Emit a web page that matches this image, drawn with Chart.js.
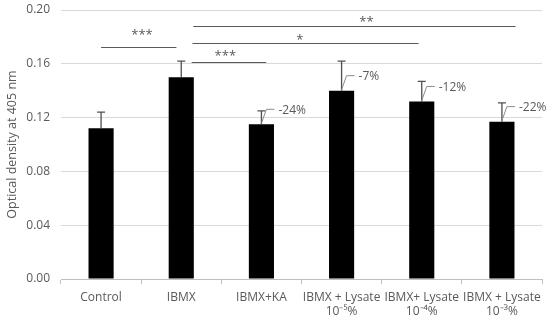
<!DOCTYPE html>
<html>
<head>
<meta charset="utf-8">
<script src="https://cdn.jsdelivr.net/npm/chart.js@4.4.1/dist/chart.umd.min.js"></script>
<style>
  html, body { margin: 0; padding: 0; background: #fff; }
  #wrap { width: 550px; height: 324px; }
</style>
</head>
<body>
<div id="wrap"><canvas id="chart"></canvas></div>
<script>
// data
const categories = ['Control', 'IBMX', 'IBMX+KA', ['IBMX + Lysate', '10\u207B\u2075%'], ['IBMX+ Lysate', '10\u207B\u2074%'], ['IBMX + Lysate', '10\u207B\u00B3%']];
const meanOD = [0.112, 0.150, 0.115, 0.140, 0.132, 0.117];
const errorOD = [0.012, 0.012, 0.010, 0.022, 0.015, 0.014];
const changeLabels = ['', '', '-24%', '-7%', '-12%', '-22%'];
const yTicks = [0, 0.04, 0.08, 0.12, 0.16, 0.20];

// significance bars: from/to/at are category positions, y in OD units
const sigBars = [
  { from: 0.0, to: 0.94, y: 0.1725, label: '***', at: 0.51 },
  { from: 1.13, to: 2.06, y: 0.161, label: '***', at: 1.55 },
  { from: 1.14, to: 3.96, y: 0.1755, label: '*', at: 2.48 },
  { from: 1.15, to: 5.17, y: 0.188, label: '**', at: 3.31 }
];
// how far each star label sits above its line (px)
const sigGap = [15, 9, 6, 7];

const TEXT = '#595959';
const FONT = '"Open Sans", sans-serif';

const extrasPlugin = {
  id: 'extras',
  afterDatasetsDraw(chart) {
    const { ctx, scales: { x, y } } = chart;
    const meta = chart.getDatasetMeta(0);
    ctx.save();

    // error bars (upper only)
    ctx.strokeStyle = '#505050';
    ctx.lineWidth = 1.3;
    meta.data.forEach((bar, i) => {
      const top = y.getPixelForValue(meanOD[i] + errorOD[i]);
      ctx.beginPath();
      ctx.moveTo(bar.x, bar.y);
      ctx.lineTo(bar.x, top);
      ctx.moveTo(bar.x - 4, top);
      ctx.lineTo(bar.x + 4, top);
      ctx.stroke();
    });

    // percent change callouts
    ctx.strokeStyle = '#8c8c8c';
    ctx.lineWidth = 1;
    ctx.fillStyle = TEXT;
    ctx.font = '12px ' + FONT;
    ctx.textBaseline = 'middle';
    meta.data.forEach((bar, i) => {
      if (!changeLabels[i]) return;
      const x0 = bar.x, y0 = bar.y - 1;
      const x1 = x0 + 5, y1 = y0 - 14;
      const x2 = x1 + 8;
      ctx.beginPath();
      ctx.moveTo(x0, y0);
      ctx.lineTo(x1, y1);
      ctx.lineTo(x2, y1);
      ctx.stroke();
      ctx.fillText(changeLabels[i], x2 + 4, y1 + 1);
    });

    // significance lines
    ctx.strokeStyle = '#595959';
    ctx.lineWidth = 1;
    ctx.textAlign = 'center';
    ctx.textBaseline = 'middle';
    ctx.font = '13px ' + FONT;
    sigBars.forEach((s, i) => {
      const xa = x.getPixelForValue(s.from), xb = x.getPixelForValue(s.to);
      const py = Math.round(y.getPixelForValue(s.y)) + 0.5;
      ctx.beginPath();
      ctx.moveTo(xa, py);
      ctx.lineTo(xb, py);
      ctx.stroke();
      // asterisks sit high in the em box, so nudge down
      ctx.fillText(s.label, x.getPixelForValue(s.at), py - sigGap[i] + 3);
    });
    ctx.restore();
  }
};

new Chart(document.getElementById('chart'), {
  type: 'bar',
  data: {
    labels: categories,
    datasets: [{
      data: meanOD,
      backgroundColor: '#000000',
      borderWidth: 0,
      barPercentage: 0.55,
      categoryPercentage: 0.57
    }]
  },
  options: {
    responsive: true,
    maintainAspectRatio: false,
    animation: false,
    layout: { padding: { top: 10, right: 8, left: 2, bottom: 0 } },
    plugins: {
      legend: { display: false },
      tooltip: { enabled: false }
    },
    scales: {
      y: {
        min: 0,
        max: 0.2,
        afterBuildTicks: (axis) => { axis.ticks = yTicks.map(v => ({ value: v })); },
        afterFit: (axis) => {
          axis.width = 59;
          axis.paddingTop = 0;
          axis.paddingBottom = 0;
        },
        border: { display: false },
        grid: { color: '#d9d9d9', lineWidth: 1, drawTicks: false },
        ticks: {
          color: TEXT,
          padding: 11,
          font: { family: FONT, size: 12 },
          callback: (v) => Number(v).toFixed(2)
        },
        title: {
          display: true,
          text: 'Optical density at 405 nm',
          color: TEXT,
          font: { family: FONT, size: 12.5 },
          padding: { top: 3, bottom: 4 }
        }
      },
      x: {
        afterFit: (axis) => {
          axis.height = 45;
          axis.paddingLeft = 0;
          axis.paddingRight = 0;
        },
        border: { display: true, color: '#bfbfbf' },
        grid: { offset: true, drawOnChartArea: false, drawTicks: true, tickLength: 5, color: '#bfbfbf' },
        ticks: {
          color: TEXT,
          padding: 6,
          maxRotation: 0,
          autoSkip: false,
          font: { family: FONT, size: 12 }
        }
      }
    }
  },
  plugins: [extrasPlugin]
});
</script>
</body>
</html>
